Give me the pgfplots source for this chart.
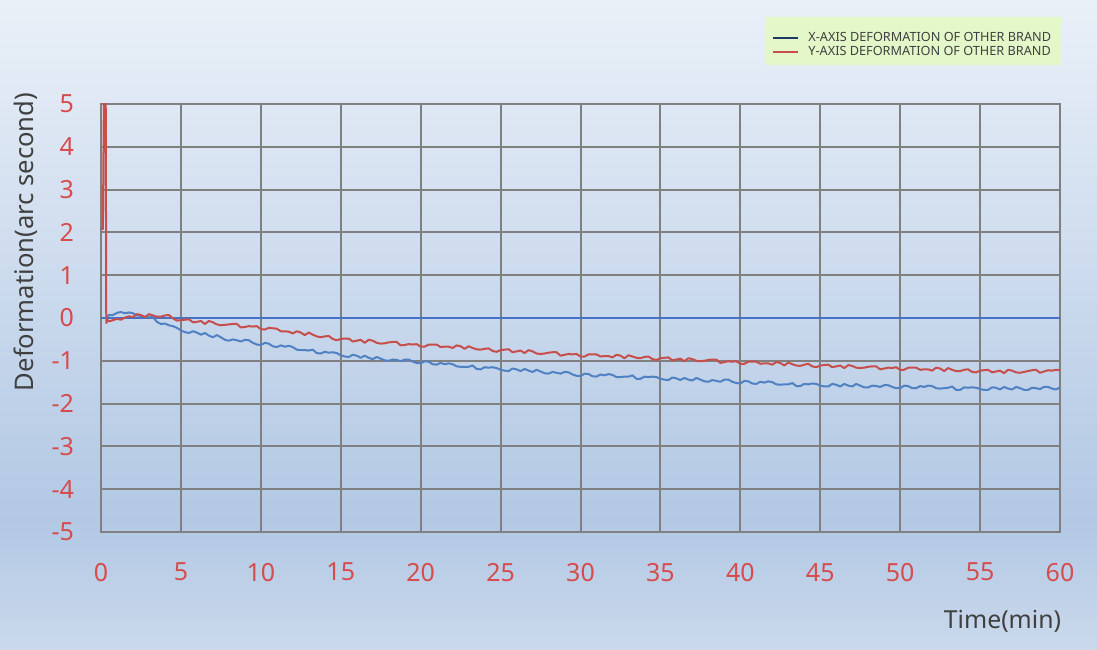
\documentclass[border=0pt]{standalone}
\usepackage{pgfplots}
\pgfplotsset{compat=1.18}
\usepackage{pgfplotstable}
\usepackage{fontspec}
\setmainfont{Noto Sans}
\definecolor{datablue}{RGB}{79,129,195}
\definecolor{zeroblue}{RGB}{68,114,196}
\definecolor{datared}{RGB}{200,78,76}
\definecolor{tickred}{RGB}{214,76,76}
\definecolor{gridgray}{RGB}{128,128,128}
\definecolor{labelgray}{RGB}{64,64,64}
\definecolor{legendgreen}{RGB}{228,247,200}
\definecolor{navyline}{RGB}{31,56,100}
\definecolor{bgtop}{RGB}{234,240,248}
\definecolor{bgmid}{RGB}{178,200,228}
\definecolor{bgbot}{RGB}{202,217,236}

\pgfplotstableread{
t v
0.3 0.00
0.5 0.07
0.75 0.07
1.0 0.12
1.25 0.14
1.5 0.11
1.75 0.13
2.0 0.11
2.25 0.06
2.5 0.05
2.75 0.03
3.0 0.02
3.25 0.02
3.5 -0.09
3.75 -0.14
4.0 -0.13
4.25 -0.17
4.5 -0.19
4.75 -0.23
5.0 -0.29
5.25 -0.33
5.5 -0.35
5.75 -0.31
6.0 -0.34
6.25 -0.39
6.5 -0.35
6.75 -0.41
7.0 -0.45
7.25 -0.40
7.5 -0.45
7.75 -0.51
8.0 -0.53
8.25 -0.50
8.5 -0.52
8.75 -0.55
9.0 -0.51
9.25 -0.52
9.5 -0.58
9.75 -0.62
10.0 -0.63
10.25 -0.58
10.5 -0.60
10.75 -0.66
11.0 -0.68
11.25 -0.64
11.5 -0.67
11.75 -0.65
12.0 -0.68
12.25 -0.74
12.5 -0.75
12.75 -0.75
13.0 -0.76
13.25 -0.74
13.5 -0.82
13.75 -0.83
14.0 -0.79
14.25 -0.81
14.5 -0.80
14.75 -0.82
15.0 -0.87
15.25 -0.90
15.5 -0.91
15.75 -0.86
16.0 -0.88
16.25 -0.93
16.5 -0.88
16.75 -0.93
17.0 -0.96
17.25 -0.91
17.5 -0.95
17.75 -0.99
18.0 -1.00
18.25 -0.97
18.5 -0.98
18.75 -1.01
19.0 -0.97
19.25 -0.97
19.5 -1.02
19.75 -1.05
20.0 -1.06
20.25 -1.01
20.5 -1.02
20.75 -1.08
21.0 -1.09
21.25 -1.05
21.5 -1.08
21.75 -1.06
22.0 -1.08
22.25 -1.13
22.5 -1.14
22.75 -1.14
23.0 -1.14
23.25 -1.11
23.5 -1.19
23.75 -1.20
24.0 -1.15
24.25 -1.16
24.5 -1.15
24.75 -1.17
25.0 -1.21
25.25 -1.23
25.5 -1.24
25.75 -1.18
26.0 -1.20
26.25 -1.24
26.5 -1.19
26.75 -1.23
27.0 -1.26
27.25 -1.21
27.5 -1.25
27.75 -1.29
28.0 -1.30
28.25 -1.26
28.5 -1.28
28.75 -1.30
29.0 -1.26
29.25 -1.27
29.5 -1.32
29.75 -1.35
30.0 -1.36
30.25 -1.30
30.5 -1.31
30.75 -1.36
31.0 -1.37
31.25 -1.32
31.5 -1.34
31.75 -1.31
32.0 -1.33
32.25 -1.38
32.5 -1.38
32.75 -1.37
33.0 -1.37
33.25 -1.34
33.5 -1.42
33.75 -1.42
34.0 -1.37
34.25 -1.38
34.5 -1.37
34.75 -1.38
35.0 -1.42
35.25 -1.44
35.5 -1.45
35.75 -1.39
36.0 -1.41
36.25 -1.45
36.5 -1.40
36.75 -1.44
37.0 -1.46
37.25 -1.40
37.5 -1.44
37.75 -1.48
38.0 -1.49
38.25 -1.45
38.5 -1.47
38.75 -1.49
39.0 -1.44
39.25 -1.44
39.5 -1.49
39.75 -1.52
40.0 -1.53
40.25 -1.47
40.5 -1.48
40.75 -1.53
41.0 -1.54
41.25 -1.49
41.5 -1.51
41.75 -1.48
42.0 -1.50
42.25 -1.55
42.5 -1.56
42.75 -1.55
43.0 -1.55
43.25 -1.52
43.5 -1.59
43.75 -1.59
44.0 -1.54
44.25 -1.55
44.5 -1.53
44.75 -1.54
45.0 -1.58
45.25 -1.60
45.5 -1.60
45.75 -1.54
46.0 -1.56
46.25 -1.60
46.5 -1.54
46.75 -1.58
47.0 -1.60
47.25 -1.54
47.5 -1.58
47.75 -1.62
48.0 -1.62
48.25 -1.58
48.5 -1.59
48.75 -1.61
49.0 -1.57
49.25 -1.57
49.5 -1.61
49.75 -1.64
50.0 -1.64
50.25 -1.58
50.5 -1.59
50.75 -1.64
51.0 -1.64
51.25 -1.59
51.5 -1.61
51.75 -1.58
52.0 -1.59
52.25 -1.64
52.5 -1.65
52.75 -1.64
53.0 -1.63
53.25 -1.60
53.5 -1.68
53.75 -1.68
54.0 -1.62
54.25 -1.63
54.5 -1.62
54.75 -1.63
55.0 -1.66
55.25 -1.68
55.5 -1.68
55.75 -1.62
56.0 -1.63
56.25 -1.67
56.5 -1.61
56.75 -1.65
57.0 -1.67
57.25 -1.61
57.5 -1.64
57.75 -1.68
58.0 -1.68
58.25 -1.63
58.5 -1.64
58.75 -1.66
59.0 -1.61
59.25 -1.61
59.5 -1.65
59.75 -1.67
60.0 -1.62
}\xdata

\pgfplotstableread{
t v
0.0 2.10
0.12 2.08
0.20 6.00
0.29 6.00
0.33 -0.12
0.40 -0.04
0.5 -0.08
0.75 -0.05
1.0 -0.02
1.25 -0.04
1.5 0.01
1.75 0.04
2.0 0.02
2.25 0.09
2.5 0.07
2.75 0.02
3.0 0.09
3.25 0.06
3.5 0.03
3.75 0.03
4.0 0.06
4.25 0.07
4.5 -0.01
4.75 -0.06
5.0 -0.05
5.25 -0.04
5.5 -0.03
5.75 -0.10
6.0 -0.09
6.25 -0.07
6.5 -0.14
6.75 -0.07
7.0 -0.10
7.25 -0.15
7.5 -0.17
7.75 -0.16
8.0 -0.15
8.25 -0.14
8.5 -0.14
8.75 -0.22
9.0 -0.21
9.25 -0.19
9.5 -0.20
9.75 -0.19
10.0 -0.26
10.25 -0.27
10.5 -0.23
10.75 -0.24
11.0 -0.25
11.25 -0.31
11.5 -0.31
11.75 -0.32
12.0 -0.36
12.25 -0.31
12.5 -0.34
12.75 -0.40
13.0 -0.34
13.25 -0.39
13.5 -0.43
13.75 -0.45
14.0 -0.43
14.25 -0.42
14.5 -0.49
14.75 -0.52
15.0 -0.49
15.25 -0.48
15.5 -0.48
15.75 -0.55
16.0 -0.53
16.25 -0.51
16.5 -0.58
16.75 -0.51
17.0 -0.53
17.25 -0.58
17.5 -0.60
17.75 -0.59
18.0 -0.57
18.25 -0.56
18.5 -0.56
18.75 -0.64
19.0 -0.63
19.25 -0.61
19.5 -0.62
19.75 -0.61
20.0 -0.67
20.25 -0.67
20.5 -0.62
20.75 -0.62
21.0 -0.62
21.25 -0.68
21.5 -0.67
21.75 -0.67
22.0 -0.70
22.25 -0.64
22.5 -0.66
22.75 -0.72
23.0 -0.66
23.25 -0.70
23.5 -0.73
23.75 -0.74
24.0 -0.72
24.25 -0.71
24.5 -0.77
24.75 -0.79
25.0 -0.75
25.25 -0.74
25.5 -0.73
25.75 -0.80
26.0 -0.78
26.25 -0.76
26.5 -0.82
26.75 -0.75
27.0 -0.78
27.25 -0.83
27.5 -0.84
27.75 -0.83
28.0 -0.81
28.25 -0.80
28.5 -0.80
28.75 -0.88
29.0 -0.86
29.25 -0.84
29.5 -0.85
29.75 -0.84
30.0 -0.90
30.25 -0.90
30.5 -0.85
30.75 -0.85
31.0 -0.85
31.25 -0.90
31.5 -0.89
31.75 -0.89
32.0 -0.92
32.25 -0.86
32.5 -0.88
32.75 -0.94
33.0 -0.87
33.25 -0.90
33.5 -0.93
33.75 -0.94
34.0 -0.91
34.25 -0.90
34.5 -0.96
34.75 -0.98
35.0 -0.94
35.25 -0.93
35.5 -0.92
35.75 -0.99
36.0 -0.97
36.25 -0.95
36.5 -1.01
36.75 -0.94
37.0 -0.96
37.25 -1.00
37.5 -1.01
37.75 -1.00
38.0 -0.98
38.25 -0.97
38.5 -0.97
38.75 -1.05
39.0 -1.03
39.25 -1.01
39.5 -1.02
39.75 -1.01
40.0 -1.07
40.25 -1.07
40.5 -1.02
40.75 -1.02
41.0 -1.02
41.25 -1.07
41.5 -1.06
41.75 -1.06
42.0 -1.09
42.25 -1.03
42.5 -1.05
42.75 -1.11
43.0 -1.04
43.25 -1.08
43.5 -1.11
43.75 -1.12
44.0 -1.09
44.25 -1.07
44.5 -1.13
44.75 -1.15
45.0 -1.11
45.25 -1.10
45.5 -1.09
45.75 -1.15
46.0 -1.13
46.25 -1.11
46.5 -1.17
46.75 -1.10
47.0 -1.12
47.25 -1.16
47.5 -1.17
47.75 -1.16
48.0 -1.14
48.25 -1.13
48.5 -1.13
48.75 -1.20
49.0 -1.18
49.25 -1.16
49.5 -1.17
49.75 -1.15
50.0 -1.21
50.25 -1.21
50.5 -1.16
50.75 -1.16
51.0 -1.16
51.25 -1.21
51.5 -1.20
51.75 -1.20
52.0 -1.23
52.25 -1.16
52.5 -1.18
52.75 -1.24
53.0 -1.17
53.25 -1.21
53.5 -1.24
53.75 -1.24
54.0 -1.21
54.25 -1.20
54.5 -1.26
54.75 -1.27
55.0 -1.23
55.25 -1.22
55.5 -1.21
55.75 -1.27
56.0 -1.25
56.25 -1.23
56.5 -1.29
56.75 -1.21
57.0 -1.23
57.25 -1.27
57.5 -1.28
57.75 -1.26
58.0 -1.24
58.25 -1.22
58.5 -1.21
58.75 -1.28
59.0 -1.25
59.25 -1.22
59.5 -1.23
59.75 -1.21
60.0 -1.22
}\ydata

\begin{document}
\begin{tikzpicture}
\useasboundingbox (0,0) rectangle (548.5pt,324.5pt);
\shade[top color=bgtop, bottom color=bgmid] (0,64.5pt) rectangle (548.5pt,324.5pt);
\shade[top color=bgmid, bottom color=bgbot] (0,0) rectangle (548.5pt,64.6pt);
\fill[legendgreen] (383pt,292pt) rectangle (531pt,316pt);
\begin{axis}[
  at={(50.5pt,58.5pt)}, anchor=south west,
  scale only axis, width=479.5pt, height=214pt,
  xmin=0, xmax=60, ymin=-5, ymax=5,
  xtick={0,5,...,60}, ytick={-5,-4,...,5},
  xticklabels={0,5,10,15,20,25,30,35,40,45,50,55,60},
  yticklabels={-5,-4,-3,-2,-1,0,1,2,3,4,5},
  grid=major,
  major grid style={draw=gridgray, line width=1pt},
  axis line style={draw=gridgray, line width=1pt},
  major tick length=0pt,
  tick label style={font=\fontsize{12.5}{14}\selectfont, text=tickred},
  yticklabel style={xshift=-10pt},
  xticklabel style={yshift=-12pt},
  /pgf/number format/assume math mode=true,
  xlabel={Time(min)}, ylabel={Deformation(arc second)},
  xlabel style={font=\fontsize{12.4}{14}\selectfont, text=labelgray,
    at={(axis description cs:1.0085,-0.2266)}, anchor=base east},
  ylabel style={font=\fontsize{12.8}{14}\selectfont, text=labelgray,
    at={(axis description cs:-0.078,0.6776)}, anchor=center},
  legend style={at={(axis description cs:0.6997,1.1708)}, anchor=north west,
    fill=none, draw=none, font=\fontsize{6.35}{7}\selectfont, text=labelgray,
    nodes={inner sep=0pt}, row sep=0.5pt, inner sep=0pt},
  legend cell align=left,
  legend image code/.code={\draw[#1] (0pt,0pt) -- (12.5pt,0pt); \path[draw=none,fill=none] (0pt,0pt) -- (17.5pt,0pt);},
  clip=true,
]
\addplot[forget plot, color=zeroblue, line width=0.9pt] coordinates {(0,0) (60,0)};
\addplot[forget plot, color=datablue, line width=1pt, line join=round] table[x=t,y=v] {\xdata};
\addplot[forget plot, color=datared, line width=1pt, line join=round] table[x=t,y=v] {\ydata};
\addlegendimage{draw=navyline, line width=1pt}
\addlegendentry{\rule[-1pt]{0pt}{6pt}X-AXIS DEFORMATION OF OTHER BRAND}
\addlegendimage{draw=datared, line width=1pt}
\addlegendentry{\rule[-1pt]{0pt}{6pt}Y-AXIS DEFORMATION OF OTHER BRAND}
\end{axis}
\end{tikzpicture}
\end{document}
